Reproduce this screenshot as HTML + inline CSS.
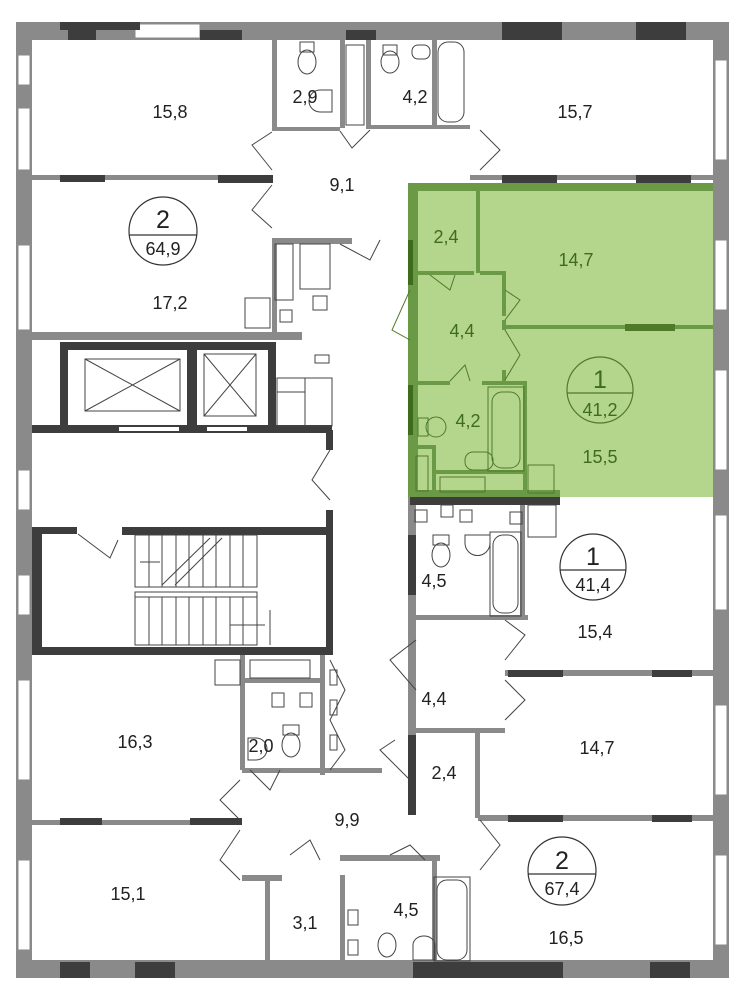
<!DOCTYPE html>
<html><head><meta charset="utf-8"><style>
html,body{margin:0;padding:0;background:#fff;}
svg{display:block;font-family:"Liberation Sans",sans-serif;}
text{font-size:18px;text-anchor:middle;fill:#222;}
.g text{fill:#3f6b1c;}
</style></head><body>
<svg width="741" height="1000" viewBox="0 0 741 1000" xmlns="http://www.w3.org/2000/svg">
<rect x="410" y="185" width="303" height="312" fill="#b3d68c"/>
<g fill="#8a8a8a">
<rect x="16" y="22" width="713" height="18"/>
<rect x="16" y="960" width="713" height="18"/>
<rect x="16" y="22" width="16" height="956"/>
<rect x="713" y="22" width="16" height="956"/>
</g>
<g fill="#fff" stroke="#8a8a8a" stroke-width="1">
<rect x="135" y="24" width="65" height="14"/>
<rect x="18" y="55" width="12" height="30"/><rect x="18" y="108" width="12" height="62"/>
<rect x="18" y="245" width="12" height="85"/>
<rect x="18" y="470" width="12" height="40"/><rect x="18" y="575" width="12" height="40"/>
<rect x="18" y="680" width="12" height="100"/><rect x="18" y="860" width="12" height="90"/>
<rect x="715" y="60" width="12" height="100"/><rect x="715" y="240" width="12" height="70"/>
<rect x="715" y="370" width="12" height="100"/><rect x="715" y="515" width="12" height="95"/>
<rect x="715" y="705" width="12" height="90"/><rect x="715" y="855" width="12" height="90"/>
</g>
<g fill="#3d3d3d">
<rect x="60" y="22" width="80" height="8"/><rect x="68" y="30" width="28" height="10"/>
<rect x="200" y="30" width="42" height="10"/><rect x="346" y="30" width="30" height="10"/>
<rect x="60" y="962" width="30" height="16"/><rect x="135" y="962" width="40" height="16"/>
<rect x="413" y="962" width="150" height="16"/><rect x="650" y="962" width="40" height="16"/>
<rect x="32" y="530" width="10" height="125"/>
<rect x="502" y="22" width="60" height="18"/><rect x="636" y="22" width="50" height="18"/>
</g>
<g fill="#8a8a8a">
<rect x="32" y="175" width="240" height="5"/><rect x="470" y="175" width="243" height="5"/>
<rect x="272" y="40" width="5" height="88"/><rect x="340" y="40" width="5" height="88"/>
<rect x="366" y="40" width="5" height="88"/><rect x="432" y="40" width="5" height="88"/>
<rect x="272" y="127" width="68" height="4"/><rect x="366" y="125" width="104" height="4"/>
<rect x="272" y="238" width="80" height="6"/>
<rect x="272" y="238" width="5" height="100"/>
<rect x="32" y="332" width="270" height="8"/>
<rect x="32" y="820" width="210" height="5"/><rect x="478" y="815" width="235" height="6"/>
<rect x="240" y="655" width="5" height="115"/>
<rect x="265" y="875" width="5" height="87"/><rect x="340" y="875" width="5" height="87"/>
<rect x="432" y="855" width="5" height="107"/>
<rect x="242" y="875" width="40" height="6"/><rect x="340" y="855" width="100" height="6"/>
<rect x="408" y="495" width="8" height="320"/>
<rect x="410" y="615" width="118" height="5"/>
<rect x="410" y="728" width="95" height="5"/>
<rect x="475" y="728" width="5" height="90"/>
<rect x="505" y="670" width="208" height="6"/>
<rect x="520" y="505" width="5" height="110"/>
<rect x="242" y="678" width="80" height="5"/><rect x="242" y="768" width="140" height="5"/>
<rect x="320" y="655" width="5" height="120"/>
</g>
<g fill="#3d3d3d">
<rect x="60" y="175" width="45" height="7"/><rect x="218" y="175" width="55" height="8"/>
<rect x="502" y="175" width="55" height="8"/><rect x="636" y="175" width="55" height="8"/>
<rect x="60" y="818" width="42" height="7"/><rect x="190" y="818" width="52" height="7"/>
<rect x="508" y="815" width="55" height="7"/><rect x="652" y="815" width="40" height="7"/>
<rect x="508" y="670" width="55" height="7"/><rect x="652" y="670" width="40" height="7"/>
<rect x="408" y="535" width="8" height="60"/><rect x="408" y="735" width="8" height="80"/>
<rect x="410" y="497" width="150" height="8"/>
<rect x="32" y="425" width="300" height="8"/>
<rect x="60" y="342" width="215" height="8"/>
<rect x="60" y="342" width="8" height="88"/><rect x="187" y="342" width="10" height="88"/>
<rect x="268" y="342" width="8" height="88"/>
<rect x="32" y="527" width="45" height="7"/><rect x="122" y="527" width="210" height="8"/>
<rect x="326" y="510" width="7" height="145"/><rect x="326" y="430" width="7" height="20"/>
<rect x="32" y="647" width="300" height="8"/>
</g>
<rect x="119" y="427" width="60" height="4" fill="#fff"/><rect x="207" y="427" width="40" height="4" fill="#fff"/>
<g fill="none" stroke="#444" stroke-width="1">
<rect x="85" y="359" width="95" height="52"/><path d="M85 359L180 411M180 359L85 411"/>
<rect x="204" y="354" width="52" height="62"/><path d="M204 354L256 416M256 354L204 416"/>
<rect x="135" y="535" width="122" height="52"/><rect x="135" y="592" width="122" height="5"/>
<rect x="135" y="597" width="122" height="48"/>
<path d="M149 535v52M162 535v52M176 535v52M189 535v52M203 535v52M216 535v52M230 535v52M243 535v52"/>
<path d="M149 597v48M162 597v48M176 597v48M189 597v48M203 597v48M216 597v48M230 597v48M243 597v48"/>
<path d="M162 585L210 538M175 585L222 538M140 562H160M230 625H265M270 610V645"/>
<path d="M272 132L252 145L272 170M272 185L252 210L272 228M340 131L352 148L370 130M480 130L500 150L480 170M340 244L370 260L380 240M330 450L312 480L330 500M78 534L110 558L118 540"/>
<path d="M416 640L390 660L416 690M505 620L525 635L505 660M505 680L525 700L505 720M240 780L220 800L240 820M240 830L220 860L240 880M410 780L380 750L395 740M250 770L270 790L280 770M290 855L310 840L320 860M390 855L410 845L425 860M480 820L500 845L480 870M330 660L345 690L330 720L345 750L330 770"/>
<rect x="438" y="42" width="26" height="80" rx="10"/><rect x="346" y="45" width="18" height="80"/>
<rect x="300" y="42" width="14" height="10"/><ellipse cx="307" cy="62" rx="9" ry="12"/>
<rect x="383" y="45" width="14" height="10"/><ellipse cx="390" cy="62" rx="9" ry="11"/>
<path d="M320 90h12v22h-12a11 11 0 0 1 0-22z"/><rect x="412" y="45" width="18" height="14" rx="6"/>
<rect x="275" y="244" width="18" height="56"/><rect x="300" y="244" width="30" height="45"/>
<rect x="245" y="298" width="25" height="30"/><rect x="280" y="310" width="12" height="12"/>
<rect x="313" y="296" width="14" height="14"/><rect x="315" y="355" width="14" height="8"/>
<rect x="277" y="378" width="55" height="48"/><path d="M305 378v48M277 392h28"/>
<rect x="415" y="510" width="12" height="12"/><rect x="441" y="505" width="12" height="12"/><rect x="460" y="510" width="12" height="12"/><rect x="510" y="512" width="12" height="12"/>
<rect x="528" y="505" width="28" height="32"/>
<rect x="493" y="535" width="25" height="78" rx="10"/><rect x="490" y="532" width="31" height="84"/>
<rect x="433" y="535" width="16" height="10"/><ellipse cx="441" cy="555" rx="9" ry="12"/>
<path d="M465 535h25v8a12 12 0 0 1-25 0z"/>
<rect x="215" y="660" width="25" height="25"/><rect x="250" y="660" width="60" height="18"/>
<rect x="272" y="693" width="12" height="14"/><rect x="300" y="693" width="12" height="14"/>
<rect x="283" y="725" width="16" height="10"/><ellipse cx="291" cy="745" rx="9" ry="12"/>
<path d="M248 738h8a11 11 0 0 1 0 22h-8z"/>
<rect x="330" y="670" width="7" height="15"/><rect x="330" y="700" width="7" height="15"/><rect x="330" y="735" width="7" height="15"/>
<rect x="437" y="880" width="30" height="80" rx="10"/><rect x="434" y="877" width="36" height="84"/>
<rect x="348" y="910" width="10" height="15"/><rect x="348" y="940" width="10" height="15"/>
<ellipse cx="387" cy="945" rx="9" ry="12"/><path d="M413 945a11 9 0 0 1 22 0v15h-22z"/>
</g>
<!-- green walls -->
<g fill="#6a9a45">
<rect x="408" y="183" width="305" height="8"/><rect x="408" y="183" width="10" height="314"/>
<rect x="408" y="490" width="152" height="7"/>
<rect x="476" y="189" width="4" height="84"/><rect x="410" y="271" width="64" height="4"/><rect x="480" y="271" width="25" height="4"/>
<rect x="502" y="271" width="4" height="45"/><rect x="505" y="325" width="208" height="4"/>
<rect x="502" y="320" width="4" height="10"/>
<rect x="410" y="381" width="40" height="4"/><rect x="482" y="381" width="45" height="4"/><rect x="502" y="370" width="4" height="14"/>
<rect x="523" y="381" width="4" height="114"/>
<rect x="410" y="445" width="25" height="4"/><rect x="432" y="445" width="4" height="48"/>
<rect x="435" y="470" width="90" height="4"/>
</g>
<rect x="408" y="240" width="5" height="45" fill="#3f6b1c"/><rect x="408" y="385" width="5" height="50" fill="#3f6b1c"/>
<rect x="625" y="324" width="50" height="7" fill="#4f7a2a"/>
<g fill="none" stroke="#4f7a2a" stroke-width="1">
<path d="M410 290L392 330L410 340M505 330L520 355L505 380M505 290L520 300L505 320M430 275L450 290L455 275M450 381L465 365L470 381"/>
<rect x="492" y="392" width="28" height="76" rx="10"/><rect x="488" y="387" width="36" height="84"/>
<rect x="418" y="418" width="10" height="18"/><ellipse cx="436" cy="427" rx="10" ry="10"/>
<rect x="465" y="452" width="28" height="18" rx="8"/><rect x="528" y="465" width="26" height="28"/>
<rect x="440" y="477" width="45" height="15"/><rect x="416" y="456" width="12" height="35"/>
<circle cx="600" cy="390" r="33" stroke-width="1.2"/><path d="M567 393h66" stroke-width="1.2"/>
</g>
<g fill="none" stroke="#333" stroke-width="1.2">
<circle cx="163" cy="231" r="34"/><path d="M129 235h68"/>
<circle cx="593" cy="567" r="33"/><path d="M560 570h66"/>
<circle cx="562" cy="871" r="34"/><path d="M528 874h68"/>
</g>
<text x="170" y="118">15,8</text><text x="305" y="103">2,9</text><text x="415" y="103">4,2</text>
<text x="575" y="118">15,7</text><text x="342" y="191">9,1</text>
<text x="163" y="228" style="font-size:25px">2</text><text x="163" y="255">64,9</text>
<text x="170" y="309">17,2</text>
<g class="g">
<text x="446" y="243">2,4</text><text x="576" y="266">14,7</text><text x="462" y="337">4,4</text>
<text x="600" y="388" style="font-size:25px">1</text><text x="600" y="416">41,2</text>
<text x="468" y="427">4,2</text><text x="600" y="463">15,5</text>
</g>
<text x="434" y="587">4,5</text><text x="593" y="565" style="font-size:25px">1</text><text x="593" y="591">41,4</text>
<text x="595" y="638">15,4</text><text x="434" y="705">4,4</text><text x="135" y="748">16,3</text>
<text x="261" y="752">2,0</text><text x="444" y="779">2,4</text><text x="597" y="754">14,7</text>
<text x="347" y="826">9,9</text><text x="562" y="869" style="font-size:25px">2</text><text x="562" y="895">67,4</text>
<text x="128" y="900">15,1</text><text x="305" y="929">3,1</text><text x="406" y="916">4,5</text><text x="566" y="944">16,5</text>
</svg>
</body></html>
